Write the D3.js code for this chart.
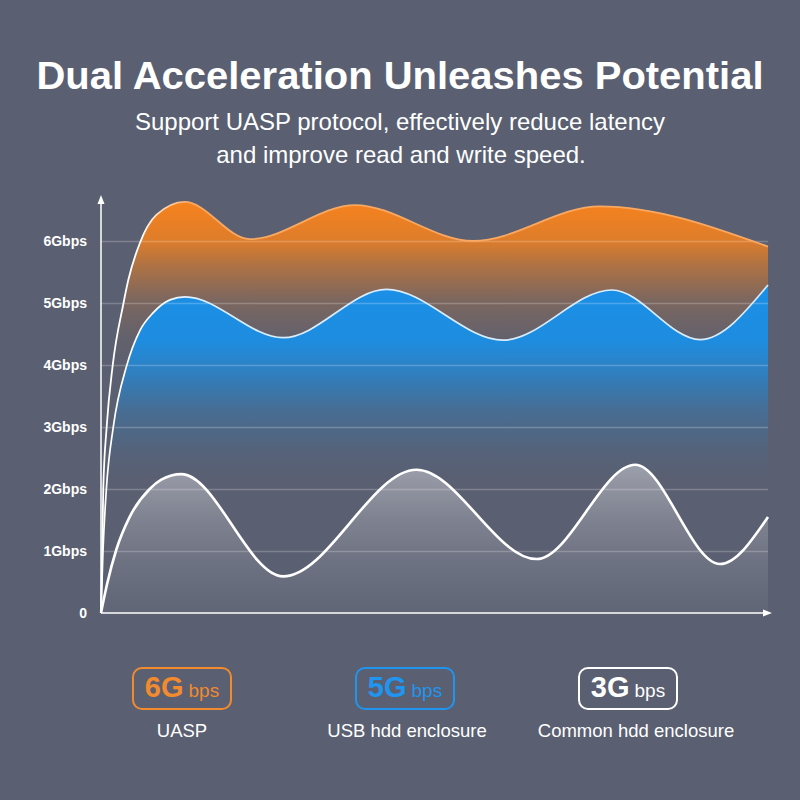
<!DOCTYPE html>
<html>
<head>
<meta charset="utf-8">
<script src="https://cdn.jsdelivr.net/npm/d3@7"></script>
<style>
html, body { margin: 0; padding: 0; background: #5a5f71; }
svg { display: block; font-family: "Liberation Sans", Arial, sans-serif; }
</style>
</head>
<body>
<div id="chart"></div>
<script>
// relative position along the x axis (0..100) and speed in Gbps
var uaspX = [0, 0.34, 0.85, 1.75, 3.34, 4.09, 5.8, 8.3, 12.55, 22.3, 38.1, 55.8, 74.8, 100];
var uaspY = [0, 2.0, 3.0, 3.99, 4.98, 5.37, 5.96, 6.42, 6.63, 6.03, 6.58, 6.0, 6.56, 5.91];

var usbX = [0, 0.3, 0.82, 1.84, 3.85, 5.85, 7.8, 10.34, 12.6, 27.3, 42.8, 60.3, 76.6, 89.8, 100];
var usbY = [0, 1.0, 2.02, 3.0, 3.99, 4.56, 4.84, 5.05, 5.1, 4.44, 5.22, 4.40, 5.21, 4.41, 5.29];

var commonX = [0, 0.94, 2.29, 4.3, 7.3, 9.04, 12.04, 27.3, 47.3, 65.3, 80.1, 92.8, 100];
var commonY = [0, 0.48, 1.02, 1.55, 2.0, 2.15, 2.24, 0.59, 2.31, 0.87, 2.39, 0.79, 1.55];

var yTicks = [0, 1, 2, 3, 4, 5, 6];
var yTickLabels = ["0", "1Gbps", "2Gbps", "3Gbps", "4Gbps", "5Gbps", "6Gbps"];

var legendSpeed = ["6G", "5G", "3G"];
var legendNames = ["UASP", "USB hdd enclosure", "Common hdd enclosure"];

var width = 800, height = 800;
var bg = "#5a5f71";

var svg = d3.select("#chart").append("svg")
    .attr("width", width)
    .attr("height", height);

svg.append("rect").attr("width", width).attr("height", height).attr("fill", bg);

// title
svg.append("text")
    .attr("x", 400).attr("y", 89)
    .attr("text-anchor", "middle")
    .attr("fill", "#fff")
    .style("font-size", "39px")
    .style("font-weight", "bold")
    .attr("textLength", 727)
    .attr("lengthAdjust", "spacingAndGlyphs")
    .text("Dual Acceleration Unleashes Potential");

svg.append("text")
    .attr("x", 400).attr("y", 130)
    .attr("text-anchor", "middle")
    .attr("fill", "#fff")
    .style("font-size", "24px")
    .text("Support UASP protocol, effectively reduce latency");

svg.append("text")
    .attr("x", 401).attr("y", 163)
    .attr("text-anchor", "middle")
    .attr("fill", "#fff")
    .style("font-size", "24px")
    .text("and improve read and write speed.");

// scales
var x = d3.scaleLinear().domain([0, 100]).range([101, 768]);
var y = d3.scaleLinear().domain([0, 6]).range([613, 241]);

var defs = svg.append("defs");

function vGrad(id, color, stops) {
    var y0 = stops[0][0], y1 = stops[stops.length - 1][0];
    var g = defs.append("linearGradient")
        .attr("id", id)
        .attr("gradientUnits", "userSpaceOnUse")
        .attr("x1", 0).attr("x2", 0)
        .attr("y1", y0).attr("y2", y1);
    stops.forEach(function (s) {
        g.append("stop")
            .attr("offset", (s[0] - y0) / (y1 - y0))
            .attr("stop-color", color)
            .attr("stop-opacity", s[1]);
    });
}

vGrad("fillOrange", "#f5821e", [[205, 1], [240, 0.85], [265, 0.55], [300, 0.22], [340, 0.05], [380, 0]]);
vGrad("fillBlue", "#1a8fe6", [[290, 1], [340, 0.95], [370, 0.7], [410, 0.3], [450, 0.08], [480, 0]]);
vGrad("fillGrey", "#ffffff", [[465, 0.4], [520, 0.22], [560, 0.12], [613, 0.04]]);

function hGrad(id, c1, c2, xa, xb) {
    var g = defs.append("linearGradient")
        .attr("id", id)
        .attr("gradientUnits", "userSpaceOnUse")
        .attr("x1", xa).attr("x2", xb)
        .attr("y1", 0).attr("y2", 0);
    g.append("stop").attr("offset", 0).attr("stop-color", c1);
    g.append("stop").attr("offset", 1).attr("stop-color", c2);
}
hGrad("lineOrange", "#ffffff", "#f8a862", 140, 190);
hGrad("lineBlue", "#ffffff", "#d8ecff", 150, 200);

var series = [
    { xs: uaspX, ys: uaspY, fill: "url(#fillOrange)", stroke: "url(#lineOrange)", sw: 1.8 },
    { xs: usbX, ys: usbY, fill: "url(#fillBlue)", stroke: "url(#lineBlue)", sw: 1.7 },
    { xs: commonX, ys: commonY, fill: "url(#fillGrey)", stroke: "#ffffff", sw: 2.6 }
];
series.forEach(function (s) {
    s.values = s.xs.map(function (v, i) { return { t: v, v: s.ys[i] }; });
});

var area = d3.area()
    .curve(d3.curveMonotoneX)
    .x(function (d) { return x(d.t); })
    .y0(y(0))
    .y1(function (d) { return y(d.v); });

var line = d3.line()
    .curve(d3.curveMonotoneX)
    .x(function (d) { return x(d.t); })
    .y(function (d) { return y(d.v); });

svg.append("g").attr("class", "areas")
    .selectAll("path").data(series).enter()
    .append("path")
    .attr("d", function (d) { return area(d.values); })
    .attr("fill", function (d) { return d.fill; });

// gridlines
svg.append("g")
    .attr("class", "grid")
    .attr("transform", "translate(" + x(0) + ",0)")
    .call(d3.axisLeft(y)
        .tickValues(yTicks.slice(1))
        .tickSize(-(x(100) - x(0)))
        .tickFormat(""))
    .call(function (g) {
        g.select(".domain").remove();
        g.selectAll("line").attr("stroke", "rgba(255,255,255,0.22)").attr("stroke-width", 1.5);
    });

svg.append("g").attr("class", "lines")
    .selectAll("path").data(series).enter()
    .append("path")
    .attr("d", function (d) { return line(d.values); })
    .attr("fill", "none")
    .attr("stroke", function (d) { return d.stroke; })
    .attr("stroke-width", function (d) { return d.sw; });

// y tick labels
svg.append("g")
    .attr("class", "axis y")
    .attr("transform", "translate(" + x(0) + ",0)")
    .call(d3.axisLeft(y)
        .tickValues(yTicks)
        .tickSize(0)
        .tickPadding(14)
        .tickFormat(function (d, i) { return yTickLabels[i]; }))
    .call(function (g) {
        g.select(".domain").remove();
        g.selectAll("text")
            .attr("fill", "#fff")
            .style("font-size", "14px")
            .style("font-weight", "bold")
            .style("font-family", "'Liberation Sans', Arial, sans-serif");
    });

// axis lines with arrows
var axisG = svg.append("g").attr("class", "axes");
axisG.append("line")
    .attr("x1", x(0)).attr("y1", y(0))
    .attr("x2", x(0)).attr("y2", 202)
    .attr("stroke", "#fff").attr("stroke-width", 1.5);
axisG.append("path")
    .attr("d", d3.line()([[x(0) - 3.5, 204], [x(0), 195], [x(0) + 3.5, 204]]))
    .attr("fill", "#fff");
axisG.append("line")
    .attr("x1", x(0)).attr("y1", y(0))
    .attr("x2", 766).attr("y2", y(0))
    .attr("stroke", "#fff").attr("stroke-width", 1.5);
axisG.append("path")
    .attr("d", d3.line()([[763, y(0) - 3.5], [772, y(0)], [763, y(0) + 3.5]]))
    .attr("fill", "#fff");

// legend
var legendColor = ["#f28a2e", "#1f95ef", "#ffffff"];
var legendCx = [182, 405, 628];

var legend = svg.append("g").attr("class", "legend")
    .selectAll("g").data(legendSpeed).enter()
    .append("g")
    .attr("transform", function (d, i) { return "translate(" + legendCx[i] + ",0)"; });

legend.append("rect")
    .attr("x", -49).attr("y", 668)
    .attr("width", 98).attr("height", 41)
    .attr("rx", 9)
    .attr("fill", "none")
    .attr("stroke", function (d, i) { return legendColor[i]; })
    .attr("stroke-width", 2);

var lt = legend.append("text")
    .attr("x", 0).attr("y", 697)
    .attr("text-anchor", "middle")
    .attr("fill", function (d, i) { return legendColor[i]; });
lt.append("tspan")
    .style("font-size", "29px")
    .style("font-weight", "bold")
    .text(function (d) { return d; });
lt.append("tspan")
    .attr("dx", 5)
    .style("font-size", "19px")
    .text("bps");

legend.append("text")
    .attr("x", function (d, i) { return i === 0 ? 0 : i === 1 ? 2 : 8; })
    .attr("y", 737)
    .attr("text-anchor", "middle")
    .attr("fill", "#fff")
    .style("font-size", "18.5px")
    .text(function (d, i) { return legendNames[i]; });
</script>
</body>
</html>
